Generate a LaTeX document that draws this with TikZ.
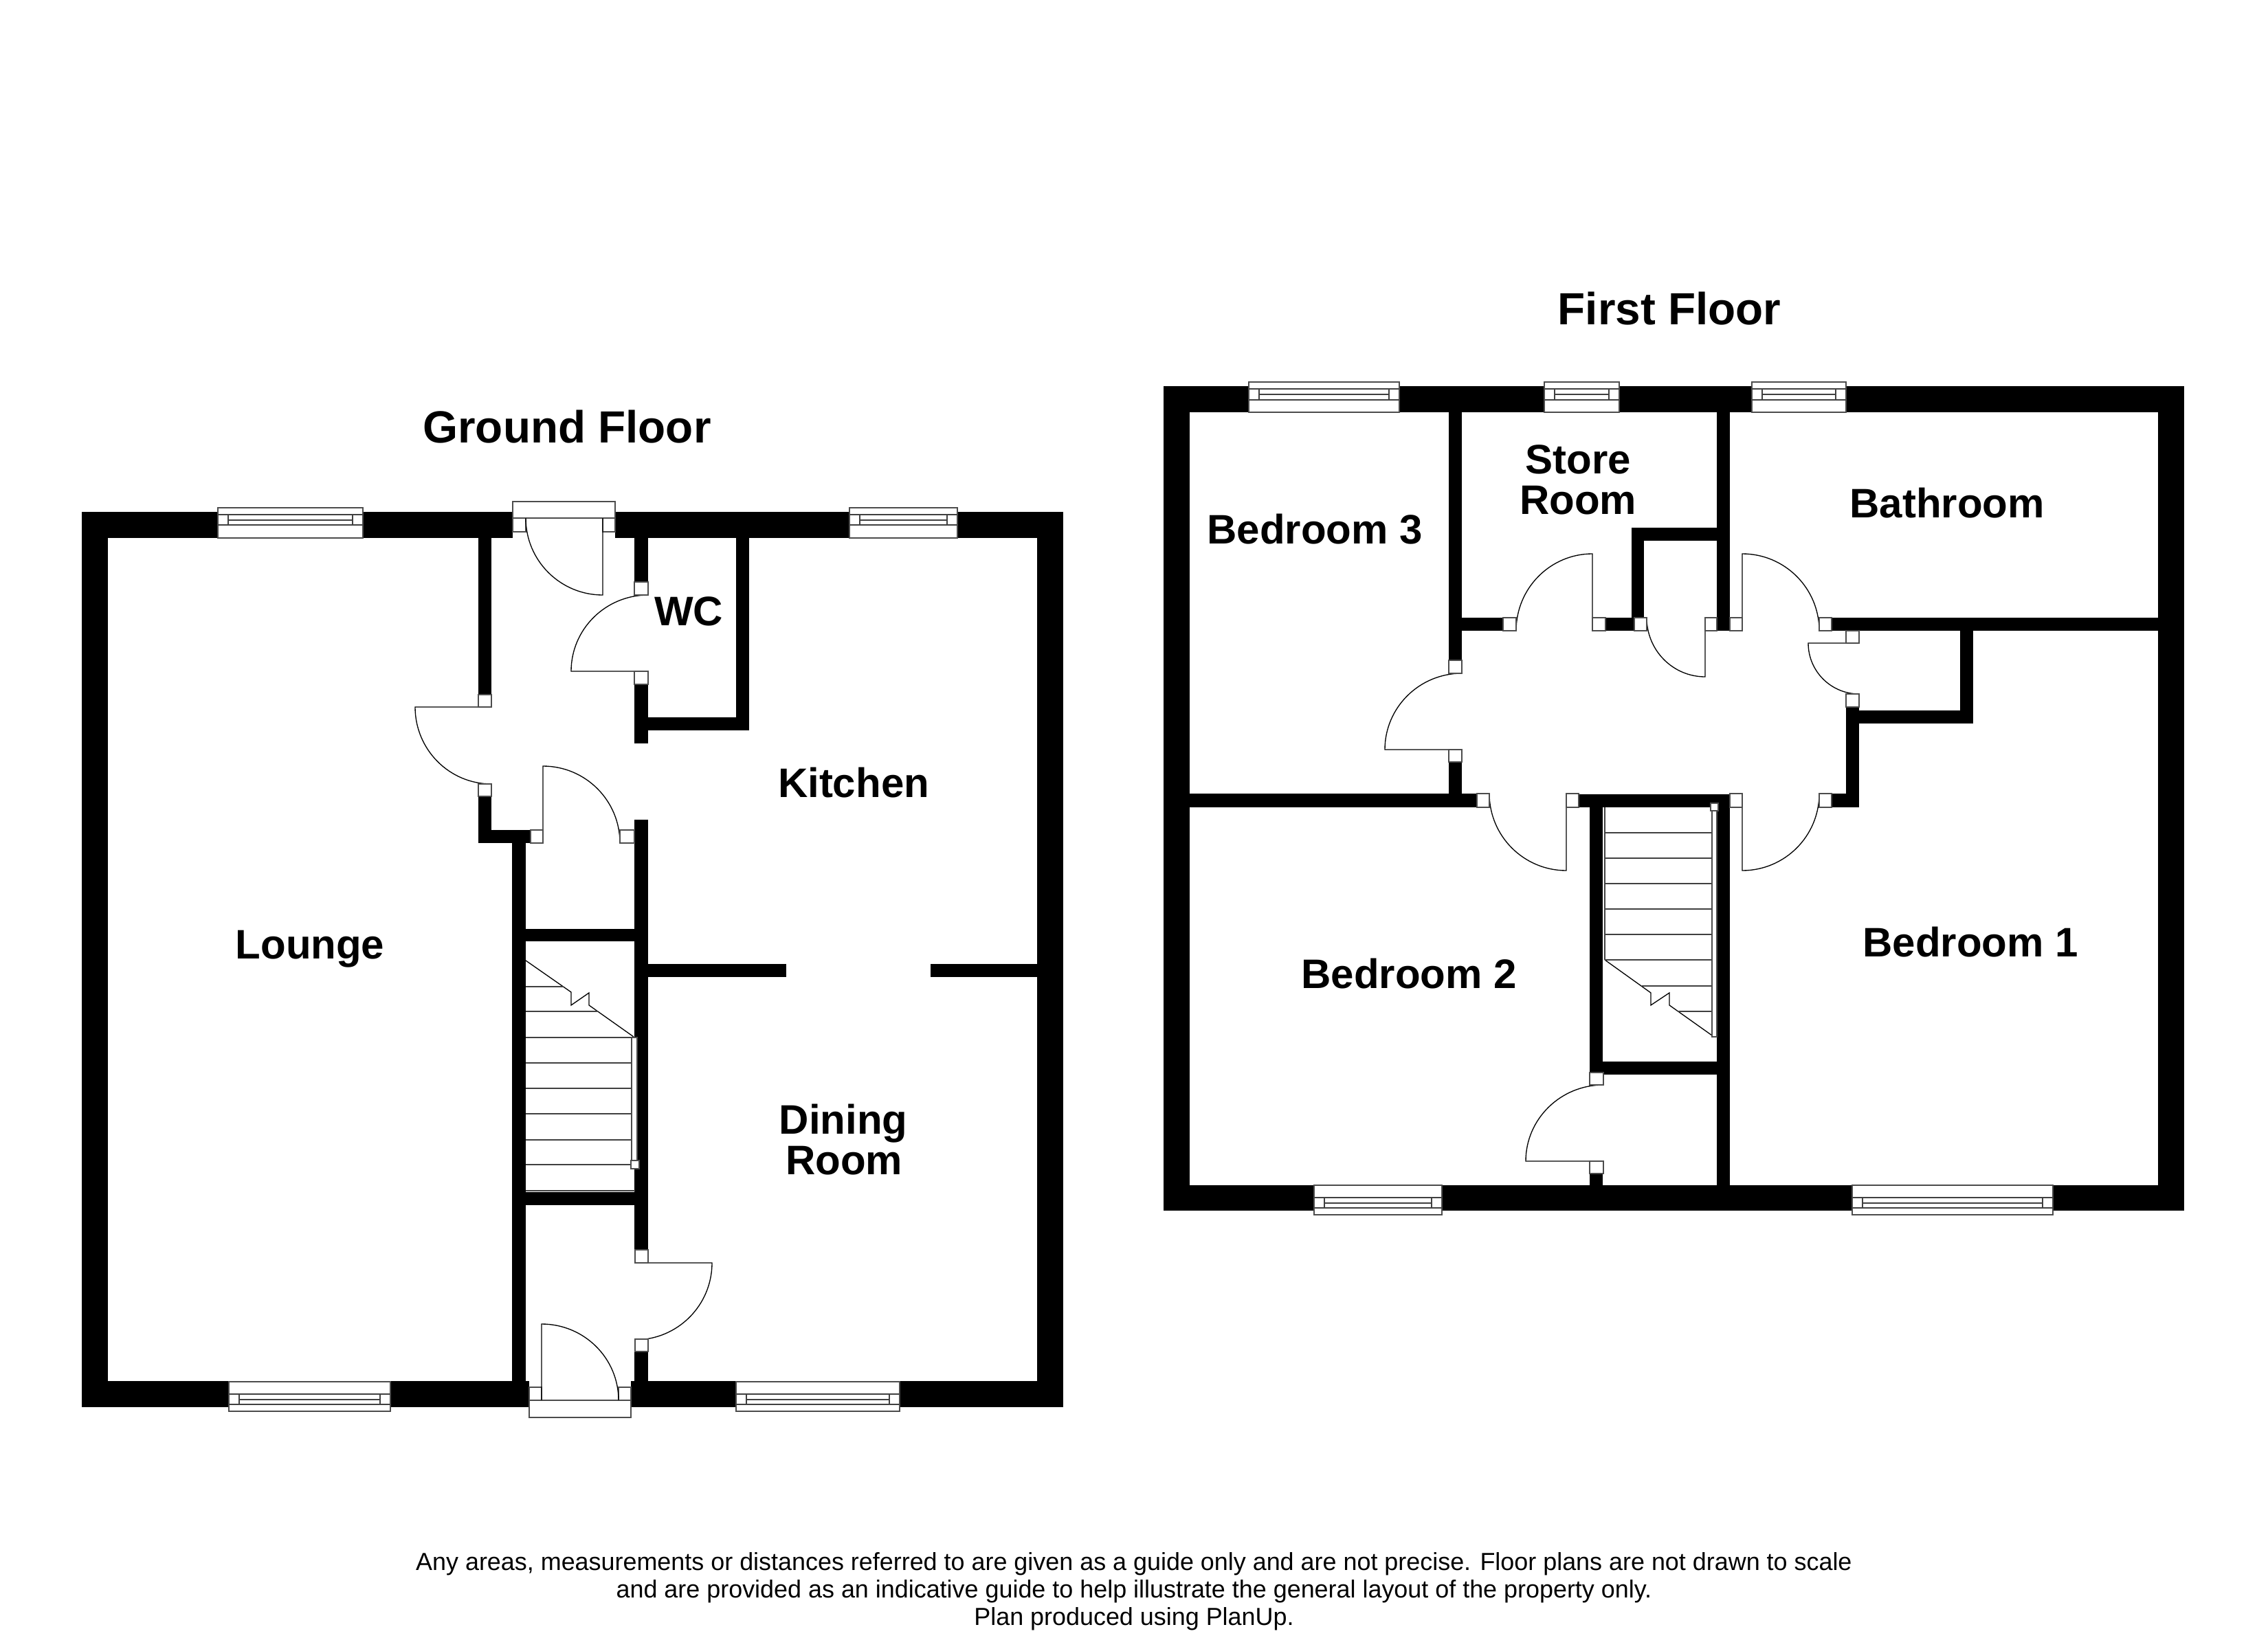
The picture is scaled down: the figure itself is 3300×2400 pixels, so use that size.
\documentclass[tikz,border=0pt]{standalone}
\usepackage{fontspec}
\setmainfont{Liberation Sans}
\usetikzlibrary{calc}
\tikzset{
  wall/.style={fill=black,draw=none},
  thinline/.style={draw=black,line width=0.32pt},
  treadline/.style={draw=black!75,line width=0.32pt},
  jambbox/.style={fill=white,draw=black!70,line width=0.32pt},
  roomlabel/.style={anchor=base,inner sep=0pt,font=\bfseries\fontsize{14.4pt}{14.4pt}\selectfont},
  titlelabel/.style={anchor=base,inner sep=0pt,font=\bfseries\fontsize{15.75pt}{15.75pt}\selectfont},
  footlabel/.style={anchor=base,inner sep=0pt,font=\fontsize{8.62pt}{8.62pt}\selectfont}
}
\newcommand{\wallbox}[4]{\fill[wall] (#1,#2) rectangle (#3,#4);}
\newcommand{\jamb}[4]{\filldraw[jambbox] (#1,#2) rectangle (#3,#4);}
\newcommand{\doorleaf}[6]{% hinge, open end, closed end
  \coordinate (O) at (#1,#2); \coordinate (A) at (#3,#4); \coordinate (B) at (#5,#6);
  \coordinate (C) at ($(A)+(B)-(O)$);
  \draw[thinline] (O) -- (A) .. controls ($(A)!0.5523!(C)$) and ($(B)!0.5523!(C)$) .. (B);}
\newcommand{\windowbox}[7]{% x1 x2 top l1 l2 l3 bottom
  \filldraw[jambbox] (#1,#3) rectangle (#2,#7);
  \draw[treadline] (#1,#4) -- (#2,#4) (#1,#6) -- (#2,#6);
  \draw[treadline] ($(#1,#4)+(15,0)$) -- ($(#1,#6)+(15,0)$) ($(#2,#4)+(-15,0)$) -- ($(#2,#6)+(-15,0)$);
  \draw[treadline] ($(#1,#5)+(15,0)$) -- ($(#2,#5)+(-15,0)$);}
\begin{document}
\begin{tikzpicture}[x=0.24pt,y=-0.24pt]
\useasboundingbox (0,0) rectangle (3300,2400);
\fill[white] (0,0) rectangle (3300,2400);
% ---------- Ground floor walls ----------
\wallbox{119}{745}{1547}{783}
\wallbox{119}{2010}{1547}{2048}
\wallbox{119}{745}{157}{2048}
\wallbox{1509}{745}{1547}{2048}
\wallbox{696}{783}{715}{1011}
\wallbox{696}{1159}{715}{1227}
\wallbox{696}{1208}{772}{1227}
\wallbox{745}{1208}{765}{2010}
\wallbox{923}{783}{943}{847}
\wallbox{923}{996}{943}{1082}
\wallbox{943}{1044}{1090}{1063}
\wallbox{1071}{783}{1090}{1063}
\wallbox{923}{1193}{943}{1819}
\wallbox{923}{1967}{943}{2010}
\wallbox{765}{1352}{923}{1370}
\wallbox{765}{1735}{923}{1754}
\wallbox{943}{1403}{1144}{1422}
\wallbox{1354}{1403}{1509}{1422}
% openings
\fill[white] (746,755) rectangle (895,783);
\fill[white] (770,2010) rectangle (918,2038);
% windows
\windowbox{317}{528}{739}{749}{757}{764}{783}
\windowbox{1236}{1393}{739}{749}{757}{764}{783}
\windowbox{333}{568}{2011}{2029}{2037}{2044}{2054}
\windowbox{1071}{1309}{2011}{2029}{2037}{2044}{2054}
% doors, ground
\jamb{746}{730}{895}{754}
\jamb{746}{754}{765}{774}
\jamb{877}{754}{895}{774}
\doorleaf{877}{754}{877}{866}{765}{754}
\doorleaf{943}{977}{831}{977}{943}{866}
\jamb{923}{847}{943}{866}
\jamb{923}{977}{943}{996}
\doorleaf{715}{1029}{604}{1029}{715}{1141}
\jamb{696}{1011}{715}{1029}
\jamb{696}{1141}{715}{1159}
\doorleaf{790}{1227}{790}{1115}{902}{1227}
\jamb{772}{1208}{790}{1227}
\jamb{902}{1208}{923}{1227}
\doorleaf{924}{1838}{1036}{1838}{924}{1950}
\jamb{924}{1819}{943}{1838}
\jamb{924}{1949}{943}{1967}
\jamb{770}{2038}{918}{2063}
\jamb{770}{2019}{788}{2038}
\jamb{900}{2019}{918}{2038}
\doorleaf{788}{2038}{788}{1927}{900}{2038}
% stairs, ground
\draw[thinline] (765,1398) -- (831,1444) -- (831,1463) -- (857,1445) -- (857,1463) -- (922,1509);
\draw[treadline] (765,1436) -- (820,1436);
\draw[treadline] (765,1472) -- (870,1472);
\foreach \ty in {1510,1547,1584,1621,1659,1695} {\draw[treadline] (765,\ty) -- (919,\ty);}
\draw[treadline] (765,1733) -- (924,1733);
\filldraw[jambbox] (919,1510) rectangle (927,1695);
\filldraw[jambbox] (918,1689) rectangle (930,1701);
% ---------- First floor walls ----------
\wallbox{1693}{562}{3178}{600}
\wallbox{1693}{1725}{3178}{1762}
\wallbox{1693}{562}{1731}{1762}
\wallbox{3140}{562}{3178}{1762}
\wallbox{2108}{600}{2127}{961}
\wallbox{2108}{1109}{2127}{1175}
\wallbox{1731}{1155}{2149}{1175}
\wallbox{2127}{899}{2187}{918}
\wallbox{2336}{899}{2378}{918}
\wallbox{2374}{768}{2392}{899}
\wallbox{2374}{768}{2498}{787}
\wallbox{2498}{600}{2517}{918}
\wallbox{2665}{899}{3140}{918}
\wallbox{2852}{918}{2871}{1053}
\wallbox{2686}{1034}{2871}{1053}
\wallbox{2686}{1029}{2705}{1175}
\wallbox{2665}{1155}{2705}{1175}
\wallbox{2297}{1156}{2517}{1175}
\wallbox{2313}{1175}{2332}{1561}
\wallbox{2313}{1708}{2332}{1725}
\wallbox{2498}{1175}{2517}{1725}
\wallbox{2332}{1545}{2498}{1564}
% windows
\windowbox{1817}{2036}{556}{566}{574}{582}{600}
\windowbox{2247}{2356}{556}{566}{574}{582}{600}
\windowbox{2549}{2686}{556}{566}{574}{582}{600}
\windowbox{1912}{2098}{1725}{1743}{1751}{1758}{1768}
\windowbox{2695}{2987}{1725}{1743}{1751}{1758}{1768}
% doors, first
\doorleaf{2127}{1091}{2015}{1091}{2127}{980}
\jamb{2108}{961}{2127}{980}
\jamb{2108}{1091}{2127}{1109}
\doorleaf{2317}{918}{2317}{806}{2206}{918}
\jamb{2187}{899}{2206}{918}
\jamb{2317}{899}{2336}{918}
\doorleaf{2481}{899}{2481}{985}{2396}{899}
\jamb{2378}{899}{2396}{918}
\jamb{2481}{899}{2498}{918}
\doorleaf{2535}{918}{2535}{806}{2647}{918}
\jamb{2517}{899}{2535}{918}
\jamb{2647}{899}{2665}{918}
\doorleaf{2705}{936}{2631}{936}{2705}{1010}
\jamb{2686}{918}{2705}{936}
\jamb{2686}{1010}{2705}{1029}
\doorleaf{2279}{1155}{2279}{1267}{2167}{1155}
\jamb{2149}{1155}{2167}{1175}
\jamb{2279}{1155}{2297}{1175}
\doorleaf{2535}{1155}{2535}{1267}{2647}{1155}
\jamb{2517}{1155}{2535}{1175}
\jamb{2647}{1155}{2665}{1175}
\doorleaf{2333}{1690}{2220}{1690}{2333}{1579}
\jamb{2313}{1561}{2333}{1579}
\jamb{2313}{1690}{2333}{1708}
% stairs, first
\draw[treadline] (2335,1175) -- (2335,1397);
\draw[thinline] (2335,1397) -- (2402,1445) -- (2402,1463) -- (2429,1445) -- (2429,1463) -- (2491,1507);
\foreach \ty in {1212,1249,1286,1323,1360,1397} {\draw[treadline] (2335,\ty) -- (2491,\ty);}
\draw[treadline] (2389,1435) -- (2491,1435);
\draw[treadline] (2441,1472) -- (2491,1472);
\filldraw[jambbox] (2491,1180) rectangle (2498,1509);
\filldraw[jambbox] (2489,1169) rectangle (2500,1180);
% ---------- Labels ----------
\node[titlelabel] (tground) at (825,644) {Ground Floor};
\node[titlelabel] (tfirst) at (2429,472) {First Floor};
\node[roomlabel] (lounge) at (451,1395) {Lounge};
\node[roomlabel] (wc) at (1002,910) {WC};
\node[roomlabel] (kitchen) at (1242,1160) {Kitchen};
\node[roomlabel] (dining) at (1227,1650) {Dining};
\node[roomlabel] (droom) at (1228,1709) {Room};
\node[roomlabel] (bed3) at (1913,791) {Bedroom 3};
\node[roomlabel] (store) at (2296,689) {Store};
\node[roomlabel] (sroom) at (2296,748) {Room};
\node[roomlabel] (bath) at (2833,753) {Bathroom};
\node[roomlabel] (bed2) at (2050,1438) {Bedroom 2};
\node[roomlabel] (bed1) at (2867,1392) {Bedroom 1};
\node[footlabel] (f1) at (1650,2285) {Any areas, measurements or distances referred to are given as a guide only and are not precise. Floor plans are not drawn to scale};
\node[footlabel] (f2) at (1650,2325) {and are provided as an indicative guide to help illustrate the general layout of the property only.};
\node[footlabel] (f3) at (1650,2365) {Plan produced using PlanUp.};
\end{tikzpicture}
\end{document}
